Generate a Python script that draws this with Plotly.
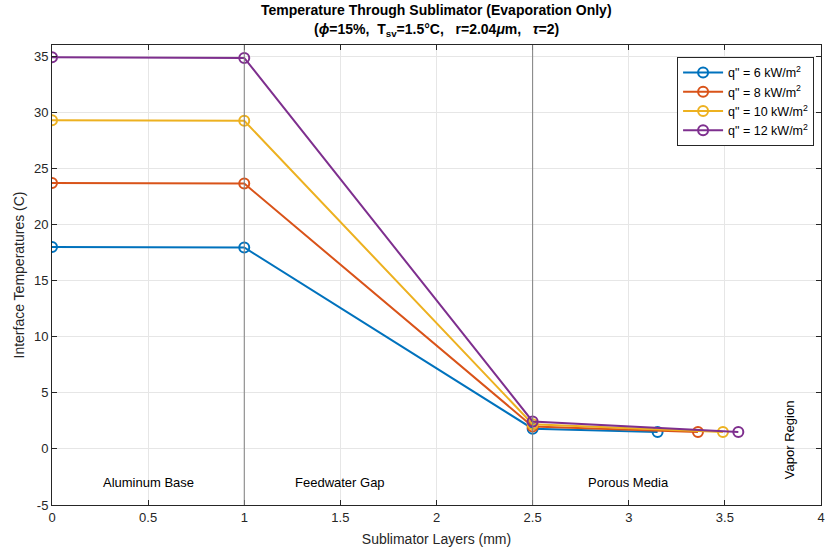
import plotly.graph_objects as go

# Interface positions through the sublimator stack (mm) and temperatures (C)
heat_flux_labels = ['q" = 6 kW/m<sup>2</sup>', 'q" = 8 kW/m<sup>2</sup>',
                    'q" = 10 kW/m<sup>2</sup>', 'q" = 12 kW/m<sup>2</sup>']
x_q6 = [0, 1, 2.5, 3.15]
x_q8 = [0, 1, 2.5, 3.36]
x_q10 = [0, 1, 2.5, 3.49]
x_q12 = [0, 1, 2.5, 3.57]
t_q6 = [18.0, 17.95, 1.8, 1.5]
t_q8 = [23.7, 23.65, 2.0, 1.5]
t_q10 = [29.3, 29.25, 2.2, 1.5]
t_q12 = [34.9, 34.85, 2.45, 1.5]
colors = ["#0072BD", "#D95319", "#EDB120", "#7E2F8E"]

layer_bounds = [1, 2.5]
region_names = ["Aluminum Base", "Feedwater Gap", "Porous Media"]
region_x = [0.5, 1.5, 3.0]
x_ticks = [0, 0.5, 1, 1.5, 2, 2.5, 3, 3.5, 4]
x_tick_text = ["0", "0.5", "1", "1.5", "2", "2.5", "3", "3.5", "4"]
y_ticks = [-5, 0, 5, 10, 15, 20, 25, 30, 35]
y_tick_text = ["-5", "0", "5", "10", "15", "20", "25", "30", "35"]

fig = go.Figure()
for name, xs, ys, c in zip(heat_flux_labels, [x_q6, x_q8, x_q10, x_q12],
                           [t_q6, t_q8, t_q10, t_q12], colors):
    fig.add_trace(go.Scatter(
        x=xs, y=ys, name=name, mode="lines+markers",
        line=dict(color=c, width=2),
        marker=dict(symbol="circle-open", size=10, color=c, line=dict(width=2)),
    ))

for xb in layer_bounds:
    fig.add_shape(type="line", x0=xb, x1=xb, y0=0, y1=1, xref="x", yref="paper",
                  line=dict(color="#808080", width=1))

for name, xr in zip(region_names, region_x):
    fig.add_annotation(x=xr, y=-3, text=name, showarrow=False,
                       font=dict(size=13, color="#000000"))
fig.add_annotation(x=3.84, y=0.8, text="Vapor Region", showarrow=False,
                   textangle=-90, font=dict(size=13, color="#000000"))

# Two-line bold title placed above the axes
title_lines = ["<b>Temperature Through Sublimator (Evaporation Only)</b>",
               "<b>(<i>ϕ</i>=15%,  T<sub>sv</sub>=1.5°C,   r=2.04<i>μ</i>m,   <i>τ</i>=2)</b>"]
for line, shift in zip(title_lines, [35, 15]):
    fig.add_annotation(x=0.5, y=1, xref="paper", yref="paper", yanchor="middle",
                       yshift=shift, text=line, showarrow=False,
                       font=dict(size=14, color="#000000"))

axis_common = dict(
    showgrid=True, gridcolor="#E6E6E6", gridwidth=1,
    showline=True, linecolor="#262626", linewidth=1, mirror="ticks",
    ticks="inside", ticklen=5, tickcolor="#262626",
    tickfont=dict(size=13, color="#262626"), zeroline=False,
)

fig.update_layout(
    width=831, height=554,
    margin=dict(l=52, r=6, t=45, b=49),
    paper_bgcolor="white", plot_bgcolor="white",
    font=dict(family="Liberation Sans, Arial, sans-serif", color="#262626"),
    xaxis=dict(range=[0, 4], tickvals=x_ticks, ticktext=x_tick_text,
               title=dict(text="Sublimator Layers (mm)", font=dict(size=14), standoff=10),
               **axis_common),
    yaxis=dict(range=[-5, 36], tickvals=y_ticks, ticktext=y_tick_text,
               title=dict(text="Interface Temperatures (C)", font=dict(size=14), standoff=6),
               **axis_common),
    legend=dict(x=0.991, y=0.974, xanchor="right", yanchor="top",
                bgcolor="white", bordercolor="#262626", borderwidth=1,
                font=dict(size=12.5, color="#000000"), tracegroupgap=0,
                itemwidth=40),
    showlegend=True,
)

fig.write_html("out.html")
